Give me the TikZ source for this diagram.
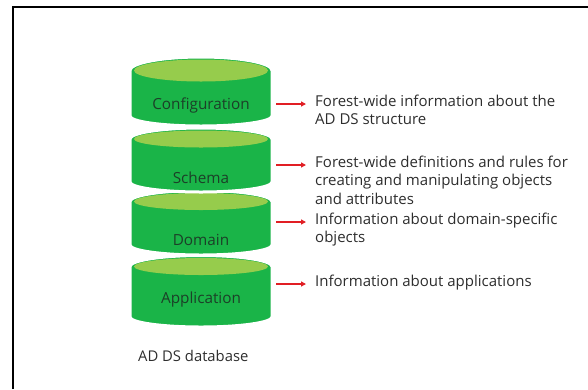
\documentclass[tikz,border=0pt]{standalone}
\usepackage{fontspec}
\setmainfont{Open Sans}
\usetikzlibrary{arrows.meta}

\definecolor{dbgreen}{RGB}{26,180,72}
\definecolor{dblight}{RGB}{150,204,76}
\definecolor{dblabel}{RGB}{28,64,40}
\definecolor{notegray}{RGB}{45,45,45}
\definecolor{arrowred}{RGB}{225,30,36}

% one slice of the database stack: top centre, bottom centre (pixel rows),
% top and bottom ellipse half-heights
\newcommand\dbsegment[4]{%
  \filldraw[segbody] (130,-#1) -- (130,-#2)
    arc[start angle=180,end angle=360,x radius=71,y radius=#4]
    -- (272,-#1)
    arc[start angle=0,end angle=180,x radius=71,y radius=#3] -- cycle;
  \fill[dblight] (201,-#1) ellipse[x radius=67,y radius=#3-2.5];
}

\begin{document}
\begin{tikzpicture}[x=1pt,y=1pt,
  segbody/.style={fill=dbgreen,draw=white,line width=3pt},
  seglabel/.style={font=\fontsize{15.3}{18}\selectfont,text=dblabel,inner sep=0pt},
  note/.style={font=\fontsize{15}{18.5}\selectfont,text=notegray,align=left,
    anchor=north west,inner sep=0pt},
  pointer/.style={draw=arrowred,line width=1.4pt,
    -{Triangle[length=5pt,width=5pt]},shorten >=9pt}]
\useasboundingbox (0,0) rectangle (588,-389);

% outer frame
\draw[line width=2.5pt] (13,-389) -- (13,-7) -- (588,-7);

% stack, drawn from the bottom up
\dbsegment{266.5}{317}{11}{10}
\dbsegment{201.5}{245}{11}{10}
\dbsegment{139}{182}{11}{10}
\dbsegment{70.5}{116}{13.5}{10}

\node[seglabel] (conf) at (201,-105) {Configuration};
\node[seglabel] (schema) at (201,-178) {Schema};
\node[seglabel] (domain) at (201,-240) {Domain};
\node[seglabel] (app) at (201,-300) {Application};

\node[seglabel,font=\fontsize{14.8}{17}\selectfont,text=notegray,anchor=west] (db) at (138,-356) {AD DS database};

% descriptions
\node[note] (tconf) at (315,-94.6) {Forest-wide information about the\\AD DS structure};
\node[note] (tschema) at (315,-155.6) {Forest-wide definitions and rules for\\creating and manipulating objects\\and attributes};
\node[note] (tdomain) at (315,-212.6) {Information about domain-specific\\objects};
\node[note] (tapp) at (315,-274.6) {Information about applications};

% pointers from the slices to their descriptions
\coordinate (pconf) at (276,-104);
\coordinate (pschema) at (276,-165);
\coordinate (pdomain) at (276,-222);
\coordinate (papp) at (276,-284);
\draw[pointer] (pconf) -- (tconf.west |- pconf);
\draw[pointer] (pschema) -- (tschema.west |- pschema);
\draw[pointer] (pdomain) -- (tdomain.west |- pdomain);
\draw[pointer] (papp) -- (tapp.west |- papp);
\end{tikzpicture}
\end{document}
